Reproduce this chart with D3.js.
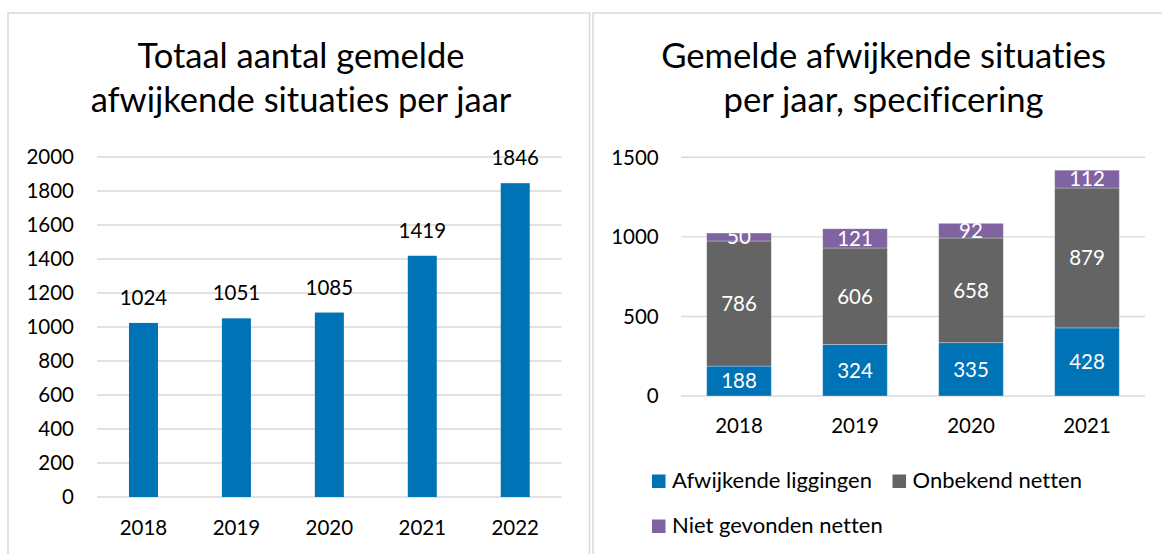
<!DOCTYPE html>
<html><head><meta charset="utf-8">
<script src="https://cdn.jsdelivr.net/npm/d3@7/dist/d3.min.js"></script>
<style>body{margin:0;background:#fff}svg{display:block}text{font-family:Lato,"Open Sans",sans-serif;fill:#000;font-variant-ligatures:none;font-feature-settings:"liga" 0}</style>
</head><body>
<svg id="c" width="1162" height="554"></svg>
<script>
// ---- data ----
const yearsTotal = ["2018","2019","2020","2021","2022"];
const totals = [1024,1051,1085,1419,1846];
const ticksTotal = [0,200,400,600,800,1000,1200,1400,1600,1800,2000];

const yearsSpec = ["2018","2019","2020","2021"];
const seriesNames = ["Afwijkende liggingen","Onbekend netten","Niet gevonden netten"];
const afwijkend = [188,324,335,428];
const onbekend = [786,606,658,879];
const nietGevonden = [50,121,92,112];
const ticksSpec = [0,500,1000,1500];

const colors = ["#0073b6","#646464","#8064a2"];
const svg = d3.select("#c");
const FS = 20.5;

// panel borders
svg.append("rect").attr("x",8).attr("y",13).attr("width",581.5).attr("height",560)
  .attr("fill","none").attr("stroke","#d9d9d9").attr("stroke-width",1.5);
svg.append("rect").attr("x",593).attr("y",13).attr("width",600).attr("height",560)
  .attr("fill","none").attr("stroke","#d9d9d9").attr("stroke-width",1.5);

function title(lines, cx, targetW){
  const g = svg.append("g");
  const t = lines.map((l,i)=>g.append("text").attr("x",cx).attr("y",68+i*44)
     .attr("text-anchor","middle").style("font-size","30px").text(l));
  const w = t[0].node().getComputedTextLength();
  const fs = 30*targetW/w;
  t.forEach(n=>n.style("font-size",fs+"px"));
}
title(["Totaal aantal gemelde","afwijkende situaties per jaar"],301,327);
title(["Gemelde afwijkende situaties","per jaar, specificering"],883.6,445);

// ---- left chart ----
const xL = d3.scaleBand().domain(yearsTotal).range([97,561.7]).paddingInner(0.688).paddingOuter(0.344);
const yL = d3.scaleLinear().domain([0,2000]).range([497,157]);
const gl = svg.append("g");
gl.selectAll("line.g").data(ticksTotal).join("line")
  .attr("x1",97).attr("x2",561.7).attr("y1",d=>yL(d)).attr("y2",d=>yL(d))
  .attr("stroke","#d9d9d9").attr("stroke-width",1.4);
gl.selectAll("text.yt").data(ticksTotal).join("text")
  .attr("x",74).attr("y",d=>yL(d)).attr("dy","0.36em").attr("text-anchor","end")
  .style("font-size",FS+"px").text(d=>d);
gl.selectAll("rect").data(totals).join("rect")
  .attr("x",(d,i)=>xL(yearsTotal[i])).attr("width",xL.bandwidth())
  .attr("y",d=>yL(d)).attr("height",d=>yL(0)-yL(d)).attr("fill",colors[0]);
gl.selectAll("text.lab").data(totals).join("text")
  .attr("x",(d,i)=>xL(yearsTotal[i])+xL.bandwidth()/2).attr("y",d=>yL(d)-18)
  .attr("text-anchor","middle").style("font-size",FS+"px").text(d=>d);
gl.selectAll("text.xt").data(yearsTotal).join("text")
  .attr("x",d=>xL(d)+xL.bandwidth()/2).attr("y",535)
  .attr("text-anchor","middle").style("font-size",FS+"px").text(d=>d);

// ---- right chart ----
const xR = d3.scaleBand().domain(yearsSpec).range([681,1145]).paddingInner(0.443).paddingOuter(0.2215);
const yR = d3.scaleLinear().domain([0,1500]).range([396,157.3]);
const gr = svg.append("g");
gr.selectAll("line").data(ticksSpec).join("line")
  .attr("x1",681).attr("x2",1145).attr("y1",d=>yR(d)).attr("y2",d=>yR(d))
  .attr("stroke","#d9d9d9").attr("stroke-width",1.4);
gr.selectAll("text.yt").data(ticksSpec).join("text")
  .attr("x",658.7).attr("y",d=>yR(d)).attr("dy","0.36em").attr("text-anchor","end")
  .style("font-size",FS+"px").text(d=>d);
const table = yearsSpec.map((y,i)=>({year:y, a:afwijkend[i], b:onbekend[i], c:nietGevonden[i]}));
const stack = d3.stack().keys(["a","b","c"])(table);
stack.forEach((layer,li)=>{
  const g = gr.append("g");
  g.selectAll("rect").data(layer).join("rect")
    .attr("x",d=>xR(d.data.year)).attr("width",xR.bandwidth())
    .attr("y",d=>yR(d[1])).attr("height",d=>yR(d[0])-yR(d[1]))
    .attr("fill",colors[li]).attr("stroke","#ffffff").attr("stroke-opacity",0.35).attr("stroke-width",0.8);
  g.selectAll("text").data(layer).join("text")
    .attr("x",d=>xR(d.data.year)+xR.bandwidth()/2).attr("y",d=>yR((d[0]+d[1])/2))
    .attr("dy","0.36em").attr("text-anchor","middle").style("font-size",FS+"px")
    .style("fill","#fff").text(d=>d[1]-d[0]);
});
gr.selectAll("text.xt").data(yearsSpec).join("text")
  .attr("x",d=>xR(d)+xR.bandwidth()/2).attr("y",433)
  .attr("text-anchor","middle").style("font-size",FS+"px").text(d=>d);

// legend
const legPos = [[652,474.5],[892.5,474.5],[652,519.5]];
seriesNames.forEach((n,i)=>{
  const [x,y] = legPos[i];
  svg.append("rect").attr("x",x).attr("y",y).attr("width",13.5).attr("height",13.5).attr("fill",colors[i]);
  svg.append("text").attr("x",x+20).attr("y",y+13).style("font-size","22px").text(n);
});
</script>
</body></html>
